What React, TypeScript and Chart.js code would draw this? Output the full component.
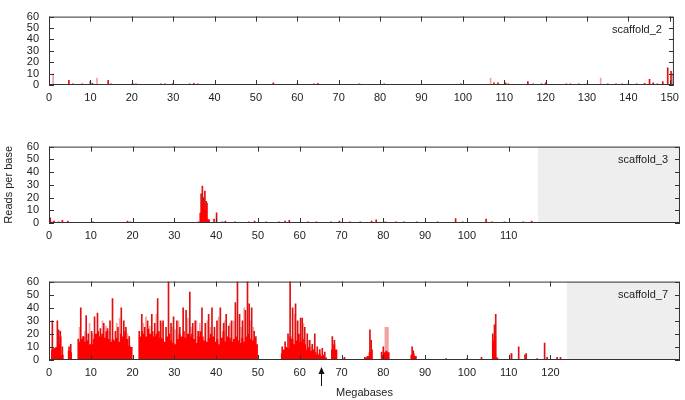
import React, { useEffect, useRef } from "react";
import { Chart, registerables } from "chart.js";
Chart.register(...registerables);

// ---------- data ----------
const BIN = 0.5; // Mb per body bin
const X_MAX = 151;
const yTicks = [0, 10, 20, 30, 40, 50, 60];
const xTicks2 = [0, 10, 20, 30, 40, 50, 60, 70, 80, 90, 100, 110, 120, 130, 140, 150];
const xTicks3 = [0, 10, 20, 30, 40, 50, 60, 70, 80, 90, 100, 110];
const xTicks7 = [0, 10, 20, 30, 40, 50, 60, 70, 80, 90, 100, 110, 120];
const length3 = 117.0;
const length7 = 123.9;
const arrowAt = 65;

// scaffold_2 : isolated spikes [Mb, reads]
const spikes2: [number, number][] = [
  [4.8, 4], [5.8, 1], [8, 1], [10, 3], [10.5, 1.5], [14.3, 4], [15, 1], [20.2, 1.5], [21, 1],
  [23, 0.5], [25, 0.5], [27, 1], [28, 1], [30, 1.5], [32, 0.5], [34, 1], [35, 1.5], [36, 1],
  [40, 0.5], [50, 0.5], [54.2, 2], [60, 1], [62, 0.5], [64, 1], [65, 1.5], [67, 0.5], [69, 0.5],
  [72, 0.5], [75, 1], [81, 1], [83, 0.5], [89, 0.5], [99.5, 1], [103, 0.5], [107.5, 2], [108.5, 2],
  [110.3, 2], [111, 1], [113, 0.5], [115.7, 3], [117, 1], [119, 1], [120, 2], [123, 0.5], [125, 1],
  [126, 1], [128, 1], [130, 1], [135, 1], [137, 1], [138.5, 1], [140, 1], [142, 1], [143.9, 1.5],
  [145.1, 5], [146, 2], [147, 1], [148.3, 3], [149.5, 15], [150.3, 12],
];
const faint2: [number, number][] = [
  [1.0, 10], [11.6, 6], [106.7, 6], [133.3, 6], [150.7, 10],
];

// scaffold_3
const body3 = [
  2, 1, 0, 0, 0, 0, 0, 0, 0, 0,
  0, 0, 0, 0, 0, 0, 0, 0, 0, 0,
  0, 0, 0, 0, 0, 0, 0, 0, 0, 0,
  0, 0, 0, 0, 0, 0, 0, 0, 0, 0,
  0, 0, 0, 0, 0, 0, 0, 0, 0, 0,
  0, 0, 0, 0, 0, 0, 0, 0, 0, 0,
  0, 0, 0, 0, 0, 0, 0, 0, 0, 0,
  0, 0, 8, 15, 10, 16, 3, 0, 0, 0,
];
const spikes3: [number, number][] = [
  [0.3, 4], [1.2, 1.5], [2.3, 1], [3.2, 2], [4.5, 1.5], [10.5, 1], [18.8, 1.5], [19.5, 1],
  [23, 0.5], [33.5, 0.5], [35.8, 1], [36.4, 23], [36.7, 29], [37.0, 20], [37.3, 25], [37.6, 17],
  [39.5, 3], [40.1, 8], [41.5, 1], [42.2, 1.5], [44.5, 1], [47.8, 1], [49.2, 1.5], [52, 1],
  [55, 1], [56.5, 1.5], [57.5, 2], [62, 1], [64, 1], [67.5, 1], [69.5, 1.5], [72, 1], [74.5, 1],
  [77.2, 1.5], [78.3, 2.5], [80.5, 1], [83, 1], [85, 1], [88, 1], [93, 1], [97.3, 3.5], [99, 1],
  [104.6, 3], [106, 1], [109, 1], [113.5, 1], [115.5, 1.5],
];

// scaffold_7 : body in 0.5 Mb bins (one row = 5 Mb)
const body7 = [
  0, 8, 9, 10, 12, 18, 4, 0, 0, 7,
  6, 0, 0, 0, 14, 16, 18, 14, 15, 12,
  12, 16, 20, 22, 18, 20, 17, 22, 16, 14,
  16, 15, 17, 14, 20, 18, 22, 16, 11, 10,
  0, 0, 0, 18, 22, 20, 18, 24, 20, 22,
  18, 20, 22, 17, 16, 14, 18, 20, 15, 13,
  12, 16, 20, 18, 22, 17, 20, 18, 20, 16,
  13, 18, 22, 18, 15, 14, 17, 20, 18, 14,
  16, 12, 17, 22, 14, 18, 17, 14, 16, 18,
  15, 13, 17, 14, 18, 20, 16, 15, 16, 12,
  0, 0, 0, 0, 0, 0, 0, 0, 0, 0,
  0, 5, 8, 10, 9, 18, 16, 12, 15, 20,
  14, 16, 12, 8, 10, 7, 8, 6, 4, 5,
  3, 4, 2, 0, 0, 8, 12, 8, 0, 0,
  0, 1, 0, 0, 0, 0, 0, 0, 0, 0,
  0, 2, 3, 6, 8, 0, 0, 0, 0, 4,
  6, 7, 6, 0, 0, 0, 0, 0, 0, 0,
  0, 0, 0, 4, 5, 3, 0, 0, 0, 0,
  0, 0, 0, 0, 0, 0, 0, 0, 0, 0,
  0, 0, 0, 0, 0, 0, 0, 0, 0, 0,
  0, 0, 0, 0, 0, 0, 0, 0, 0, 0,
  0, 0, 15, 18, 2, 0, 0, 0, 0, 0,
];
const spikes7: [number, number][] = [
  [0.8, 30], [1.3, 9], [2.0, 30], [2.3, 23], [2.7, 22], [3.2, 10], [4.8, 10], [5.2, 12],
  [7.0, 16], [7.6, 40], [8.2, 18], [8.9, 34], [9.4, 20], [10.2, 22], [10.9, 33], [11.6, 36],
  [12.3, 24], [13.1, 28], [14.0, 24], [14.6, 30], [15.2, 47], [15.9, 22], [16.5, 25], [17.3, 40],
  [17.9, 30], [18.4, 25], [19.2, 18],
  [21.6, 22], [22.2, 35], [22.9, 25], [23.6, 30], [24.6, 35], [25.3, 28], [26.0, 47], [26.7, 30],
  [27.3, 30], [28.0, 25], [28.6, 60], [29.2, 28], [29.8, 33], [30.6, 30], [31.3, 25], [32.1, 40],
  [32.8, 38], [33.7, 52], [34.4, 28], [35.0, 30], [35.7, 22], [36.6, 40], [37.4, 28], [38.2, 35],
  [39.0, 40], [39.6, 25], [40.2, 30], [41.0, 40], [41.8, 28], [42.4, 35], [43.0, 26], [43.7, 30],
  [44.6, 44], [45.1, 60], [45.6, 35], [46.3, 30], [47.0, 38], [47.5, 60], [47.9, 43], [48.5, 40],
  [49.1, 22], [49.5, 18],
  [55.8, 10], [56.5, 14], [57.2, 20], [57.7, 60], [58.3, 40], [59.0, 43], [59.5, 30], [60.2, 32],
  [60.6, 32], [61.2, 25], [61.8, 20], [62.4, 15], [63.0, 12], [63.6, 20], [64.2, 10], [64.8, 8],
  [65.4, 9], [66.0, 6], [67.8, 18], [68.3, 15],
  [70.7, 2], [75.6, 2], [76.8, 23], [77.1, 15], [79.6, 6], [80.0, 10], [86.9, 10], [87.2, 7],
  [95, 1], [100, 1], [103.5, 2], [106.2, 20], [106.6, 27], [106.9, 35], [110.7, 5], [112.4, 10],
  [113.9, 4], [114.2, 5], [116.8, 1], [118.6, 13], [119.2, 2], [121.6, 2], [122.4, 2],
];
const faint7: [number, number][] = [
  [7.3, 25], [8.6, 22], [9.7, 28], [10.5, 20], [12.8, 30], [13.6, 26], [14.3, 22], [16.2, 28],
  [16.9, 32], [18.8, 20], [22.6, 28], [23.2, 33], [24.1, 26], [25.7, 35], [27.0, 28], [29.5, 25],
  [30.2, 23], [31.0, 30], [33.2, 32], [34.0, 25], [35.3, 30], [36.1, 28], [37.9, 30], [38.6, 25],
  [40.6, 33], [42.0, 30], [43.3, 28], [44.2, 30], [46.0, 25], [46.7, 40], [48.2, 30], [48.9, 25],
  [58.8, 35], [60.9, 28], [62.0, 15], [62.8, 10], [80.5, 25], [80.8, 25], [81.1, 25], [110.5, 5],
];

// ---------- helpers ----------
const FONT = "'Liberation Sans', Arial, Helvetica, sans-serif";
const RED = "#ff0000";
const DARK_RED = "#e01010";
const PINK = "#f3a0a0";

const toXY = (arr: [number, number][]) => arr.map(([x, y]) => ({ x, y }));
const bodyPoints = (vals: number[]) =>
  vals.map((v, i) => ({ x: i * BIN, y: v })).concat([{ x: vals.length * BIN, y: 0 }]);

type PanelCfg = {
  label: string;
  xTicks: number[];
  end: number | null;
  padTop: number;
  xHeight: number;
  body: number[] | null;
  spikes: [number, number][];
  faint: [number, number][];
  yTitle?: string;
  xTitle?: string;
  arrow?: number;
};

function makePlugin(cfg: PanelCfg) {
  return {
    id: "panel_" + cfg.label,
    beforeDatasetsDraw(chart: any) {
      const { ctx, chartArea: a, scales } = chart;
      if (cfg.end != null) {
        const px = scales.x.getPixelForValue(cfg.end);
        ctx.save();
        ctx.fillStyle = "#eeeeee";
        ctx.fillRect(px, a.top, a.right - px, a.bottom - a.top);
        ctx.restore();
      }
    },
    afterDraw(chart: any) {
      const { ctx, chartArea: a, scales } = chart;
      const x = scales.x;
      const y = scales.y;
      ctx.save();
      ctx.strokeStyle = "#333";
      ctx.lineWidth = 1;
      ctx.strokeRect(a.left + 0.5, a.top + 0.5, a.right - a.left - 1, a.bottom - a.top - 1);
      ctx.beginPath();
      const TL = 5;
      cfg.xTicks.forEach((v) => {
        const px = Math.round(x.getPixelForValue(v)) + 0.5;
        ctx.moveTo(px, a.bottom);
        ctx.lineTo(px, a.bottom - TL);
        ctx.moveTo(px, a.top);
        ctx.lineTo(px, a.top + TL);
      });
      yTicks.forEach((v) => {
        const py = Math.round(y.getPixelForValue(v)) + 0.5;
        ctx.moveTo(a.left, py);
        ctx.lineTo(a.left + TL, py);
        ctx.moveTo(a.right, py);
        ctx.lineTo(a.right - TL, py);
      });
      ctx.stroke();
      ctx.fillStyle = "#222";
      ctx.font = "11px " + FONT;
      ctx.textAlign = "right";
      ctx.textBaseline = "middle";
      ctx.fillText(cfg.label, a.right - 12, a.top + 13);
      if (cfg.arrow != null) {
        const px = Math.round(x.getPixelForValue(cfg.arrow)) + 0.5;
        const top = a.bottom + 7;
        ctx.strokeStyle = "#111";
        ctx.beginPath();
        ctx.moveTo(px, top + 3);
        ctx.lineTo(px, top + 19);
        ctx.stroke();
        ctx.fillStyle = "#111";
        ctx.beginPath();
        ctx.moveTo(px, top);
        ctx.lineTo(px - 3, top + 7);
        ctx.lineTo(px + 3, top + 7);
        ctx.closePath();
        ctx.fill();
      }
      ctx.restore();
    },
  };
}

function buildChart(canvas: HTMLCanvasElement, cfg: PanelCfg) {
  const datasets: any[] = [];
  datasets.push({
    type: "bar",
    data: toXY(cfg.spikes),
    backgroundColor: DARK_RED,
    barThickness: 1,
    grouped: false,
    order: 1,
  });
  datasets.push({
    type: "bar",
    data: toXY(cfg.faint),
    backgroundColor: PINK,
    barThickness: 1,
    grouped: false,
    order: 2,
  });
  if (cfg.body) {
    datasets.push({
      type: "line",
      data: bodyPoints(cfg.body),
      stepped: true,
      fill: "origin",
      backgroundColor: RED,
      borderWidth: 0,
      borderColor: RED,
      pointRadius: 0,
      order: 0,
    });
  }
  return new Chart(canvas, {
    type: "bar",
    data: { datasets },
    plugins: [makePlugin(cfg)],
    options: {
      animation: false,
      responsive: false,
      devicePixelRatio: 1,
      layout: { padding: { top: cfg.padTop, right: 5, left: 0, bottom: 0 } },
      plugins: { legend: { display: false }, tooltip: { enabled: false } },
      scales: {
        x: {
          type: "linear",
          min: 0,
          max: X_MAX,
          offset: false,
          grid: { display: false, drawTicks: false, offset: false },
          border: { display: false },
          afterBuildTicks: (s: any) => {
            s.ticks = cfg.xTicks.map((v) => ({ value: v }));
          },
          afterFit: (s: any) => {
            s.height = cfg.xHeight;
          },
          ticks: {
            autoSkip: false,
            maxRotation: 0,
            padding: 6,
            color: "#222",
            font: { family: FONT, size: 11 },
          },
          title: {
            display: !!cfg.xTitle,
            text: cfg.xTitle || "",
            color: "#222",
            font: { family: FONT, size: 11 },
            padding: { top: 0, bottom: 0 },
          },
        },
        y: {
          min: 0,
          max: 60,
          grid: { display: false, drawTicks: false },
          border: { display: false },
          afterBuildTicks: (s: any) => {
            s.ticks = yTicks.map((v) => ({ value: v }));
          },
          afterFit: (s: any) => {
            s.width = 49;
          },
          ticks: {
            autoSkip: false,
            padding: 10,
            color: "#222",
            font: { family: FONT, size: 11 },
          },
          title: {
            display: !!cfg.yTitle,
            text: cfg.yTitle || "",
            color: "#222",
            font: { family: FONT, size: 11 },
            padding: { top: 2, bottom: 0 },
          },
        },
      },
    } as any,
  });
}

const panels: { top: number; height: number; cfg: PanelCfg }[] = [
  {
    top: 0,
    height: 110,
    cfg: {
      label: "scaffold_2", xTicks: xTicks2, end: null, padTop: 7, xHeight: 25,
      body: null, spikes: spikes2, faint: faint2,
    },
  },
  {
    top: 130,
    height: 115,
    cfg: {
      label: "scaffold_3", xTicks: xTicks3, end: length3, padTop: 15, xHeight: 22,
      body: body3, spikes: spikes3, faint: [], yTitle: "Reads per base",
    },
  },
  {
    top: 265,
    height: 135,
    cfg: {
      label: "scaffold_7", xTicks: xTicks7, end: length7, padTop: 16, xHeight: 40,
      body: body7, spikes: spikes7, faint: faint7, xTitle: "Megabases", arrow: arrowAt,
    },
  },
];

export default function App() {
  const r0 = useRef<HTMLCanvasElement>(null);
  const r1 = useRef<HTMLCanvasElement>(null);
  const r2 = useRef<HTMLCanvasElement>(null);
  const refs = [r0, r1, r2];

  useEffect(() => {
    const charts = panels.map((p, i) => buildChart(refs[i].current as HTMLCanvasElement, p.cfg));
    return () => charts.forEach((c) => c.destroy());
  }, []);

  return (
    <div style={{ position: "absolute", left: 0, top: 0, width: 685, height: 400, background: "#fff" }}>
      {panels.map((p, i) => (
        <canvas
          key={i}
          ref={refs[i]}
          width={685}
          height={p.height}
          style={{ position: "absolute", left: 0, top: p.top, width: 685, height: p.height }}
        />
      ))}
    </div>
  );
}
